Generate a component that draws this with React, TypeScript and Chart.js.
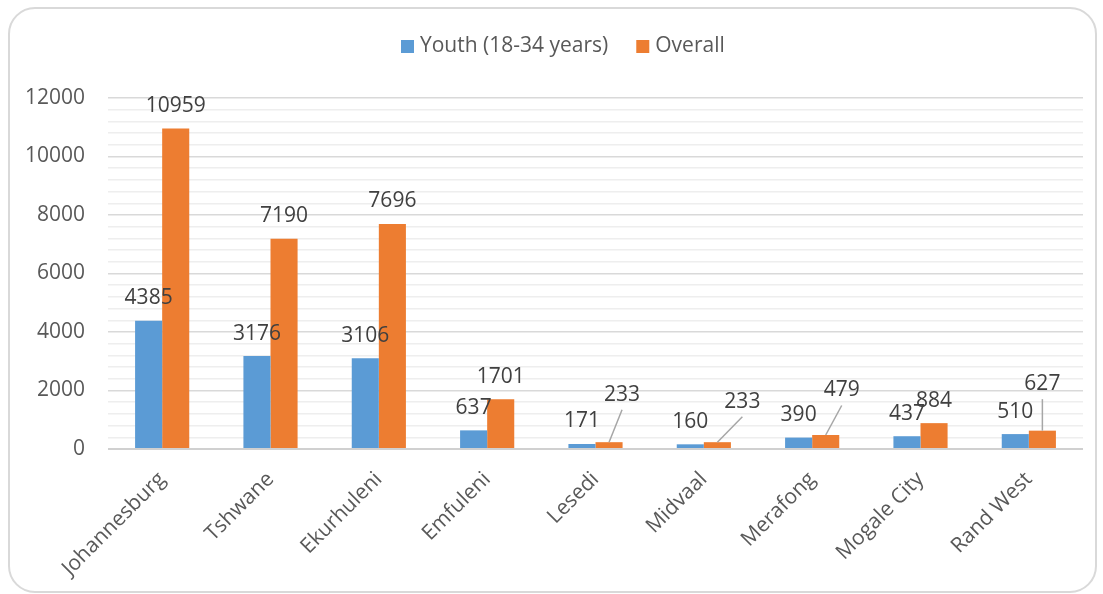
import React, { useEffect, useRef } from 'react';
import { Chart, registerables } from 'chart.js';

Chart.register(...registerables);

// Municipalities along the x axis
const municipalities = [
  'Johannesburg',
  'Tshwane',
  'Ekurhuleni',
  'Emfuleni',
  'Lesedi',
  'Midvaal',
  'Merafong',
  'Mogale City',
  'Rand West',
];

// Series values
const youth = [4385, 3176, 3106, 637, 171, 160, 390, 437, 510];
const overall = [10959, 7190, 7696, 1701, 233, 233, 479, 884, 627];

const seriesNames = ['Youth (18-34 years)', 'Overall'];
const seriesColors = ['#5B9BD5', '#ED7D31'];

// Value axis range
const yMin = 0;
const yMax = 12000;
const yMajorStep = 2000;
const yMinorStep = 400;

const FONT = '"Open Sans", "Noto Sans", sans-serif';
const TEXT = '#595959';
const LABEL_TEXT = '#404040';

// Hand-moved data labels of the "Overall" series: [dx, dy] in px, drawn with a leader line
const overallLabelNudges: Record<string, [number, number]> = {
  Lesedi: [13, -25],
  Midvaal: [25, -18],
  Merafong: [16, -22],
  'Rand West': [0, -24],
};

const decorPlugin = {
  id: 'decor',
  beforeDraw(chart: Chart) {
    const ctx = chart.ctx;
    ctx.save();
    ctx.fillStyle = '#ffffff';
    ctx.fillRect(0, 0, chart.width, chart.height);
    // rounded outer frame
    const x = 9, y = 8, w = 1087, h = 584, r = 26;
    ctx.beginPath();
    ctx.moveTo(x + r, y);
    ctx.lineTo(x + w - r, y);
    ctx.arcTo(x + w, y, x + w, y + r, r);
    ctx.lineTo(x + w, y + h - r);
    ctx.arcTo(x + w, y + h, x + w - r, y + h, r);
    ctx.lineTo(x + r, y + h);
    ctx.arcTo(x, y + h, x, y + h - r, r);
    ctx.lineTo(x, y + r);
    ctx.arcTo(x, y, x + r, y, r);
    ctx.closePath();
    ctx.strokeStyle = '#d9d9d9';
    ctx.lineWidth = 2;
    ctx.stroke();
    ctx.restore();
  },
  afterDatasetsDraw(chart: Chart) {
    const ctx = chart.ctx;
    ctx.save();
    ctx.font = `21px ${FONT}`;
    ctx.textAlign = 'center';
    ctx.textBaseline = 'middle';
    chart.data.datasets.forEach((ds, di) => {
      const meta = chart.getDatasetMeta(di);
      meta.data.forEach((bar: any, i: number) => {
        const value = ds.data[i] as number;
        const nudge = di === 1 ? overallLabelNudges[municipalities[i]] : undefined;
        const lx = bar.x + (nudge ? nudge[0] : 0);
        const ly = bar.y - 22.5 + (nudge ? nudge[1] : 0);
        if (nudge) {
          ctx.beginPath();
          ctx.moveTo(lx, ly + 15);
          ctx.lineTo(bar.x, bar.y);
          ctx.strokeStyle = '#a6a6a6';
          ctx.lineWidth = 1.5;
          ctx.stroke();
        }
        ctx.fillStyle = LABEL_TEXT;
        ctx.fillText(String(value), lx, ly);
      });
    });
    ctx.restore();
  },
  afterDraw(chart: Chart) {
    // legend row
    const ctx = chart.ctx;
    ctx.save();
    ctx.font = `21px ${FONT}`;
    ctx.textAlign = 'left';
    ctx.textBaseline = 'middle';
    let x = 401;
    const yMid = 46;
    seriesNames.forEach((name, i) => {
      ctx.fillStyle = seriesColors[i];
      ctx.fillRect(x, yMid - 6, 13, 13);
      ctx.fillStyle = TEXT;
      ctx.fillText(name, x + 19, yMid);
      x += 19 + ctx.measureText(name).width + 28;
    });
    ctx.restore();
  },
};

export default function App() {
  const canvasRef = useRef<HTMLCanvasElement | null>(null);

  useEffect(() => {
    if (!canvasRef.current) return;
    const chart = new Chart(canvasRef.current, {
      type: 'bar',
      data: {
        labels: municipalities,
        datasets: [
          {
            label: seriesNames[0],
            data: youth,
            backgroundColor: seriesColors[0],
            categoryPercentage: 0.5,
            barPercentage: 1,
          },
          {
            label: seriesNames[1],
            data: overall,
            backgroundColor: seriesColors[1],
            categoryPercentage: 0.5,
            barPercentage: 1,
          },
        ],
      },
      options: {
        responsive: false,
        animation: false,
        devicePixelRatio: 1,
        layout: { padding: { top: 98, right: 20, bottom: 0, left: 0 } },
        plugins: {
          legend: { display: false },
          tooltip: { enabled: false },
        },
        scales: {
          x: {
            grid: { display: false, drawTicks: false },
            border: { display: false },
            ticks: {
              color: TEXT,
              font: { family: FONT, size: 21 },
              minRotation: 45,
              maxRotation: 45,
              autoSkip: false,
              padding: 18,
            },
            afterFit: (s: any) => {
              s.height = 145;
            },
          },
          y: {
            min: yMin,
            max: yMax,
            border: { display: false },
            grid: {
              drawTicks: false,
              color: (c: any) =>
                c.tick.value === 0 ? '#d0d0d0' : c.tick.value % yMajorStep === 0 ? '#d9d9d9' : '#eeeeee',
              lineWidth: (c: any) => (c.tick.value === 0 ? 2 : 1.5),
            },
            ticks: {
              stepSize: yMinorStep,
              autoSkip: false,
              padding: 23,
              color: TEXT,
              font: { family: FONT, size: 21 },
              callback: (v: any) => (Number(v) % yMajorStep === 0 ? String(v) : ''),
            },
            afterFit: (s: any) => {
              s.width = 108;
            },
          },
        },
      },
      plugins: [decorPlugin],
    });
    return () => chart.destroy();
  }, []);

  return (
    <div style={{ position: 'fixed', left: 0, top: 0, width: 1103, height: 594 }}>
      <canvas ref={canvasRef} width={1103} height={594} />
    </div>
  );
}
